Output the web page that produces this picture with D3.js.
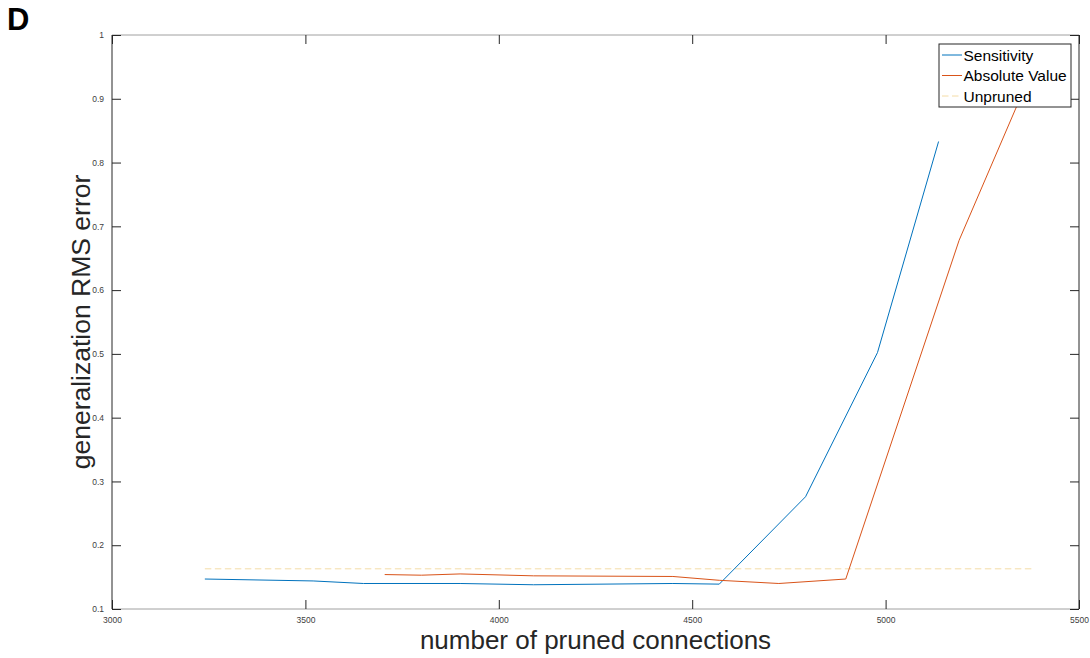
<!DOCTYPE html>
<html>
<head>
<meta charset="utf-8">
<script src="https://cdn.jsdelivr.net/npm/d3@7"></script>
<style>
  html, body { margin: 0; padding: 0; background: #fff; }
  svg { display: block; font-family: "Liberation Sans", Arial, Helvetica, sans-serif; }
</style>
</head>
<body>
<svg id="chart" width="1090" height="658"></svg>
<script>
// Pruning experiment: generalization error versus number of pruned connections
const sensitivityX = [3240, 3520, 3650, 3900, 4090, 4450, 4570, 4793, 4979, 5137];
const sensitivityY = [0.147, 0.144, 0.140, 0.140, 0.138, 0.140, 0.139, 0.276, 0.502, 0.833];

const absoluteX = [3705, 3800, 3900, 4090, 4450, 4570, 4724, 4897, 5190, 5377];
const absoluteY = [0.154, 0.153, 0.155, 0.152, 0.151, 0.145, 0.140, 0.147, 0.678, 0.942];

const unprunedX = [3240, 5377];
const unprunedY = [0.163, 0.163];

const xTicks = [3000, 3500, 4000, 4500, 5000, 5500];
const yTicks = [0.1, 0.2, 0.3, 0.4, 0.5, 0.6, 0.7, 0.8, 0.9, 1];

const seriesNames = ["Sensitivity", "Absolute Value", "Unpruned"];
const seriesColors = ["#0072BD", "#D95319", "#F4DCA6"];

const svg = d3.select("#chart");
const plotLeft = 112, plotRight = 1079, plotTop = 35, plotBottom = 609;

const x = d3.scaleLinear().domain([3000, 5500]).range([plotLeft, plotRight]);
const y = d3.scaleLinear().domain([0.1, 1]).range([plotBottom, plotTop]);

// Axes box: top and bottom lines in grey, left and right in black
svg.append("line").attr("x1", plotLeft).attr("x2", plotRight).attr("y1", plotTop).attr("y2", plotTop)
  .attr("stroke", "#a0a0a0").attr("stroke-width", 1);
svg.append("line").attr("x1", plotLeft).attr("x2", plotRight).attr("y1", plotBottom).attr("y2", plotBottom)
  .attr("stroke", "#a0a0a0").attr("stroke-width", 1);

const tickLen = 9;
const tickFont = 8.5;

// Bottom axis (ticks pointing inward)
const xAxis = d3.axisBottom(x).tickValues(xTicks).tickSize(-tickLen).tickPadding(8)
  .tickFormat(d3.format("d"));
const gx = svg.append("g").attr("transform", `translate(0,${plotBottom})`).call(xAxis);
gx.select(".domain").remove();
gx.selectAll(".tick line").attr("stroke", "#262626");
gx.selectAll(".tick text").attr("font-size", tickFont).attr("fill", "#404040")
  .attr("font-family", "Liberation Sans, Arial, sans-serif");

// Top axis ticks
const gxt = svg.append("g").attr("transform", `translate(0,${plotTop})`)
  .call(d3.axisTop(x).tickValues(xTicks).tickSize(-tickLen).tickFormat(""));
gxt.select(".domain").remove();
gxt.selectAll(".tick line").attr("stroke", "#262626");

// Left axis
const yAxis = d3.axisLeft(y).tickValues(yTicks).tickSize(-tickLen).tickPadding(8)
  .tickFormat(d => d === 1 ? "1" : d3.format(".1f")(d));
const gy = svg.append("g").attr("transform", `translate(${plotLeft},0)`).call(yAxis);
gy.select(".domain").attr("stroke", "#262626").attr("d", `M0,${plotTop}V${plotBottom}`);
gy.selectAll(".tick line").attr("stroke", "#262626");
gy.selectAll(".tick text").attr("font-size", tickFont).attr("fill", "#404040")
  .attr("font-family", "Liberation Sans, Arial, sans-serif");

// Right axis
const gyr = svg.append("g").attr("transform", `translate(${plotRight},0)`)
  .call(d3.axisRight(y).tickValues(yTicks).tickSize(-tickLen).tickFormat(""));
gyr.select(".domain").attr("stroke", "#262626").attr("d", `M0,${plotTop}V${plotBottom}`);
gyr.selectAll(".tick line").attr("stroke", "#262626");

// Series lines
const line = d3.line().x(d => x(d[0])).y(d => y(d[1]));
const zip = (a, b) => a.map((v, i) => [v, b[i]]);

svg.append("path").datum(zip(unprunedX, unprunedY)).attr("d", line)
  .attr("fill", "none").attr("stroke", seriesColors[2]).attr("stroke-width", 1)
  .attr("stroke-dasharray", "6.5,3.5");
svg.append("path").datum(zip(sensitivityX, sensitivityY)).attr("d", line)
  .attr("fill", "none").attr("stroke", seriesColors[0]).attr("stroke-width", 1);
svg.append("path").datum(zip(absoluteX, absoluteY)).attr("d", line)
  .attr("fill", "none").attr("stroke", seriesColors[1]).attr("stroke-width", 1);

// Legend
const lg = svg.append("g").attr("transform", "translate(939,44)");
lg.append("rect").attr("width", 132).attr("height", 63)
  .attr("fill", "#fff").attr("stroke", "#262626").attr("stroke-width", 1);
seriesNames.forEach((name, i) => {
  const yy = 11 + i * 20.5;
  lg.append("line").attr("x1", 3).attr("x2", 23).attr("y1", yy).attr("y2", yy)
    .attr("stroke", seriesColors[i]).attr("stroke-width", 1)
    .attr("stroke-dasharray", i === 2 ? "6.5,3.5" : null);
  lg.append("text").attr("x", 24.5).attr("y", yy + 5.5).attr("font-size", 15.5)
    .attr("fill", "#000").text(name);
});

// Axis labels
svg.append("text").attr("x", (plotLeft + plotRight) / 2).attr("y", 649)
  .attr("text-anchor", "middle").attr("font-size", 26).attr("fill", "#262626")
  .text("number of pruned connections");
svg.append("text").attr("transform", `translate(89.5,${(plotTop + plotBottom) / 2}) rotate(-90)`)
  .attr("text-anchor", "middle").attr("font-size", 26.5).attr("fill", "#262626")
  .text("generalization RMS error");

// Panel letter
svg.append("text").attr("x", 7).attr("y", 29.5).attr("font-size", 31)
  .attr("font-weight", "bold").attr("fill", "#000").text("D");
</script>
</body>
</html>
